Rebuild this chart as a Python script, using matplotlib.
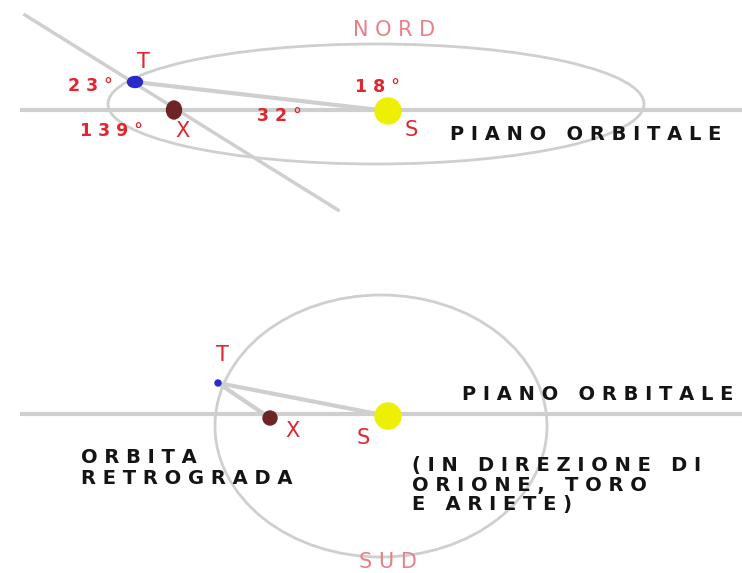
import matplotlib.pyplot as plt
from matplotlib.patches import Ellipse

# scene coordinates are in picture pixels (x right, y down)
W, H = 742, 573

# upper view: orbit seen almost edge-on
top_plane_y = 110
top_orbit = (376, 104, 536, 120)          # cx, cy, width, height
top_T = (135, 82)
top_X = (174, 110)
top_S = (388, 111)
top_sightline = [(25, 15), (338, 210)]

# lower view: orbit seen face-on
bot_plane_y = 414
bot_orbit = (381, 426, 332, 262)
bot_T = (218, 383)
bot_X = (270, 418)
bot_S = (388, 416)

angles = ['2 3 °', '1 3 9 °', '3 2 °', '1 8 °']
angle_pos = [(90, 86), (111, 131), (279, 116), (377, 87)]

RED = '#e0262e'
PINK = '#e8808a'
GRAY = '#cfcfcf'
INK = '#141414'

fig = plt.figure(figsize=(W / 100, H / 100), dpi=100)
ax = fig.add_axes([0, 0, 1, 1])
ax.set_xlim(0, W)
ax.set_ylim(H, 0)
ax.axis('off')

# ---- upper view ----
ax.plot([20, W], [top_plane_y, top_plane_y], color=GRAY, lw=3, solid_capstyle='butt')
cx, cy, ew, eh = top_orbit
ax.add_patch(Ellipse((cx, cy), ew, eh, fill=False, ec=GRAY, lw=2))
(x0, y0), (x1, y1) = top_sightline
ax.plot([x0, x1], [y0, y1], color=GRAY, lw=2.5)
ax.plot([top_T[0], top_S[0]], [top_T[1], top_S[1]], color=GRAY, lw=3)

ax.add_patch(Ellipse(top_S, 26, 26, color='#eef000', zorder=3))
ax.add_patch(Ellipse(top_X, 15, 18, color='#6e2424', zorder=3))
ax.add_patch(Ellipse(top_T, 15, 11, color='#2a2ac8', zorder=3))

ax.text(394, 30, 'N O R D', color=PINK, fontsize=15, ha='center', va='center')
ax.text(143, 62, 'T', color=RED, fontsize=15, ha='center', va='center')
ax.text(183, 131, 'X', color=RED, fontsize=15, ha='center', va='center')
ax.text(411, 130, 'S', color=RED, fontsize=15, ha='center', va='center')
for lab, (lx, ly) in zip(angles, angle_pos):
    ax.text(lx, ly, lab, color=RED, fontsize=12.5, ha='center', va='center',
            fontweight='bold')
ax.text(450, 135, 'P I A N O   O R B I T A L E', color=INK, fontsize=14,
        ha='left', va='center', fontweight='semibold')

# ---- lower view ----
ax.plot([20, W], [bot_plane_y, bot_plane_y], color=GRAY, lw=3, solid_capstyle='butt')
cx, cy, ew, eh = bot_orbit
ax.add_patch(Ellipse((cx, cy), ew, eh, fill=False, ec=GRAY, lw=2))
ax.plot([bot_T[0], bot_S[0]], [bot_T[1], bot_S[1]], color=GRAY, lw=3)
ax.plot([bot_T[0], bot_X[0]], [bot_T[1], bot_X[1]], color=GRAY, lw=3)

ax.add_patch(Ellipse(bot_S, 26, 26, color='#eef000', zorder=3))
ax.add_patch(Ellipse(bot_X, 14, 14, color='#6e2424', zorder=3))
ax.add_patch(Ellipse(bot_T, 6, 6, color='#2a2ac8', zorder=3))

ax.text(222, 355, 'T', color=RED, fontsize=15, ha='center', va='center')
ax.text(292, 431, 'X', color=RED, fontsize=15, ha='center', va='center')
ax.text(363, 438, 'S', color=RED, fontsize=15, ha='center', va='center')
ax.text(388, 562, 'S U D', color=PINK, fontsize=15, ha='center', va='center')

ax.text(462, 395, 'P I A N O   O R B I T A L E', color=INK, fontsize=14,
        ha='left', va='center', fontweight='semibold')
ax.text(81, 468, 'O R B I T A\nR E T R O G R A D A', color=INK, fontsize=14,
        ha='left', va='center', fontweight='semibold', linespacing=1.1)
ax.text(412, 485, '( I N   D I R E Z I O N E   D I\nO R I O N E ,   T O R O\nE   A R I E T E )',
        color=INK, fontsize=14, ha='left', va='center', fontweight='semibold',
        linespacing=1.05)

fig.savefig('out.png', dpi=100)
